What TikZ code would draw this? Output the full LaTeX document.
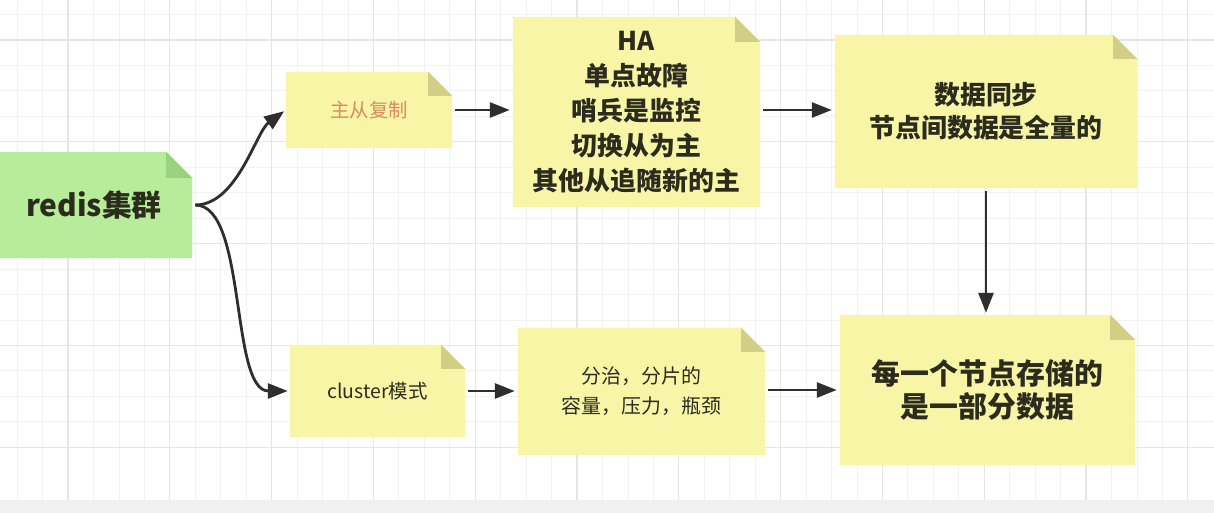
\documentclass[tikz,border=0pt]{standalone}
\usepackage{fontspec}
\setmainfont{Noto Sans CJK SC}
\usetikzlibrary{arrows.meta,backgrounds}
\definecolor{noteyellow}{HTML}{F8F6A6}
\definecolor{foldyellow}{HTML}{D2CE86}
\definecolor{notegreen}{HTML}{B6EC9A}
\definecolor{foldgreen}{HTML}{98D27C}
\definecolor{txt}{HTML}{2B2B1E}
\definecolor{orangetxt}{HTML}{D98A62}
\definecolor{arrowc}{HTML}{2E2E2E}
\definecolor{gridmajor}{HTML}{E6E6E6}
\definecolor{gridminor}{HTML}{F2F2F2}
\newcommand\notefill[4]{%
  \fill[#2] (#1.south west) -- (#1.north west) -- ([xshift=-#4]#1.north east) -- ([yshift=-#4]#1.north east) -- (#1.south east) -- cycle;
  \fill[#3] ([xshift=-#4]#1.north east) -- ([xshift=-#4,yshift=-#4]#1.north east) -- ([yshift=-#4]#1.north east) -- cycle;}
\tikzset{
  note/.style={inner sep=0pt, align=center, text=txt},
  arr/.style={draw=arrowc, line width=2.8bp, -{Triangle[length=20bp,width=15bp]}},
}
\begin{document}
\begin{tikzpicture}[x=1bp,y=-1bp]
\useasboundingbox (0,0) rectangle (1214,513);
% nodes
\node[note, minimum width=196bp, minimum height=106bp, font=\fontsize{30}{34}\selectfont\bfseries] (redis) at (94,205) {redis集群};
\node[note, minimum width=166bp, minimum height=76bp, text=orangetxt, font=\fontsize{19.5}{24}\selectfont] (zc) at (369,110) {主从复制};
\node[note, minimum width=247bp, minimum height=190bp, font=\fontsize{26}{35}\selectfont\bfseries] (ha) at (636.5,112) {HA\\单点故障\\哨兵是监控\\切换从为主\\其他从追随新的主};
\node[note, minimum width=302bp, minimum height=153bp, font=\fontsize{26}{33}\selectfont\bfseries] (sync) at (986,111.5) {数据同步\\节点间数据是全量的};
\node[note, minimum width=175bp, minimum height=92bp, font=\fontsize{19.5}{24}\selectfont] (cl) at (377.5,391) {cluster模式};
\node[note, minimum width=247bp, minimum height=127bp, font=\fontsize{20}{30}\selectfont] (fz) at (641.5,391.5) {分治，分片的\\容量，压力，瓶颈};
\node[note, minimum width=295bp, minimum height=150bp, font=\fontsize{29}{34}\selectfont\bfseries] (part) at (987.5,390) {每一个节点存储的\\是一部分数据};
% background: grid and note fills
\begin{pgfonlayer}{background}
  \fill[white] (0,0) rectangle (1214,513);
  \foreach \i in {0,...,48} {
    \draw[gridminor, line width=0.8bp] ({-33.8+25.45*\i},0) -- ({-33.8+25.45*\i},513);
  }
  \foreach \i in {0,...,20} {
    \draw[gridminor, line width=0.8bp] (0,{-61.8+25.45*\i}) -- (1214,{-61.8+25.45*\i});
  }
  \foreach \i in {0,...,11} {
    \draw[gridmajor, line width=1.2bp] ({68+101.8*\i},0) -- ({68+101.8*\i},513);
  }
  \foreach \i in {0,...,4} {
    \draw[gridmajor, line width=1.2bp] (0,{40+101.8*\i}) -- (1214,{40+101.8*\i});
  }
  \fill[gray!12] (0,500) rectangle (1214,513);
  \notefill{redis}{notegreen}{foldgreen}{26bp}
  \notefill{zc}{noteyellow}{foldyellow}{24bp}
  \notefill{ha}{noteyellow}{foldyellow}{25bp}
  \notefill{sync}{noteyellow}{foldyellow}{24bp}
  \notefill{cl}{noteyellow}{foldyellow}{24bp}
  \notefill{fz}{noteyellow}{foldyellow}{24bp}
  \notefill{part}{noteyellow}{foldyellow}{25bp}
\end{pgfonlayer}
% connectors
\draw[arr, shorten <=3bp, shorten >=2bp] (redis.east) .. controls +(45,0) and +(-30,22) .. (zc.west);
\draw[arr, shorten <=3bp, shorten >=2bp] (redis.east) .. controls +(55,0) and +(-60,0) .. (cl.west);
\draw[arr, shorten <=3bp, shorten >=3bp] (zc.east) -- (ha.west |- zc.east);
\draw[arr, shorten <=3bp, shorten >=3bp] (ha.east |- zc.east) -- (sync.west |- zc.east);
\draw[arr, shorten <=3bp, shorten >=2bp] (sync.south) -- (sync.south |- part.north);
\draw[arr, shorten <=3bp, shorten >=3bp] (cl.east) -- (fz.west |- cl.east);
\draw[arr, shorten <=3bp, shorten >=3bp] (fz.east |- part.west) -- (part.west);
\end{tikzpicture}
\end{document}
